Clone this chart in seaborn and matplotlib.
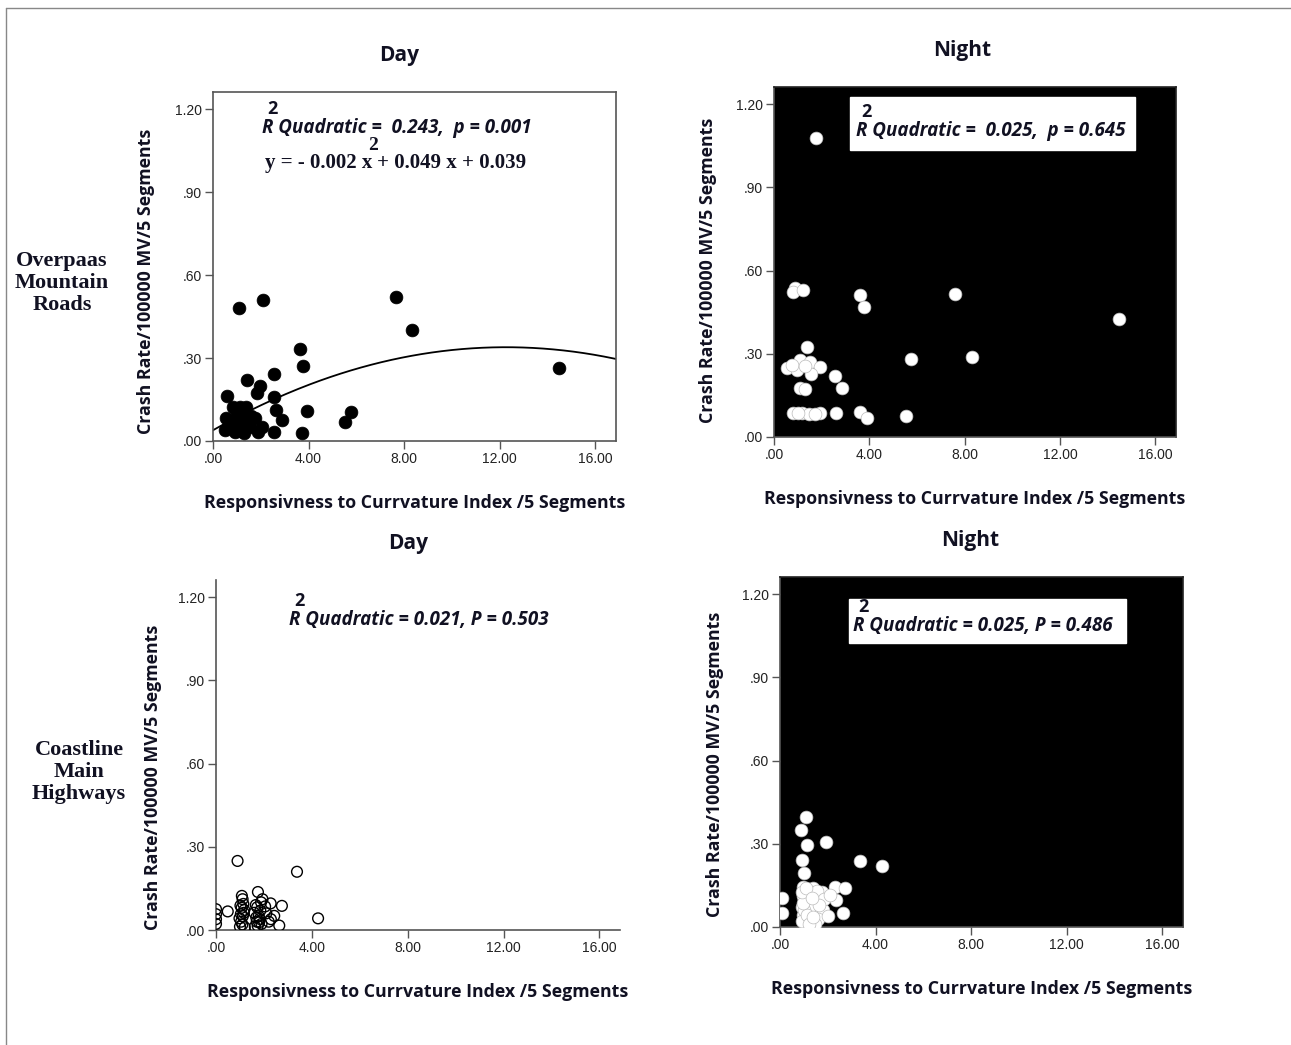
import numpy as np
import pandas as pd
import matplotlib
matplotlib.use("Agg")
import matplotlib.pyplot as plt
import seaborn as sns
from matplotlib.patches import Rectangle
from matplotlib.lines import Line2D

sns.set_theme(style="white")
plt.rcParams["font.family"] = ["Liberation Sans", "DejaVu Sans"]

# ---------------- data ----------------
x_ticks = [0, 4, 8, 12, 16]
x_tick_labels = [".00", "4.00", "8.00", "12.00", "16.00"]
y_ticks = [0.0, 0.3, 0.6, 0.9, 1.2]
y_tick_labels = [".00", ".30", ".60", ".90", "1.20"]

mtn_day_x = [1.07, 2.09, 7.64, 8.32, 14.49, 3.64, 3.78, 2.56, 1.41, 1.95, 1.84, 0.60,
             2.56, 2.63, 3.92, 5.76, 5.53, 2.88, 3.74, 2.56, 0.49, 0.84, 1.11, 1.39,
             0.56, 1.76, 1.11, 0.91, 1.30, 1.88, 2.05, 1.53, 1.11, 1.39, 0.75, 1.00,
             1.20, 0.95, 1.60]
mtn_day_y = [0.482, 0.509, 0.522, 0.402, 0.265, 0.332, 0.273, 0.242, 0.221, 0.199, 0.172, 0.163,
             0.159, 0.112, 0.109, 0.104, 0.070, 0.075, 0.028, 0.033, 0.039, 0.124, 0.124, 0.124,
             0.084, 0.084, 0.087, 0.033, 0.029, 0.033, 0.049, 0.051, 0.063, 0.087, 0.060, 0.100,
             0.045, 0.070, 0.090]

mtn_night_x = [1.75, 0.88, 0.81, 1.20, 3.62, 3.76, 7.61, 14.47, 1.39, 5.74, 8.31, 0.53,
               0.95, 1.09, 1.51, 1.92, 1.56, 2.55, 2.87, 1.09, 1.30, 0.81, 1.16, 1.48,
               1.92, 2.62, 3.62, 3.90, 5.52, 0.75, 1.30, 1.00, 1.70]
mtn_night_y = [1.077, 0.536, 0.524, 0.530, 0.512, 0.467, 0.517, 0.425, 0.325, 0.282, 0.290, 0.249,
               0.240, 0.276, 0.270, 0.252, 0.227, 0.220, 0.178, 0.178, 0.173, 0.086, 0.086, 0.082,
               0.086, 0.088, 0.089, 0.070, 0.074, 0.260, 0.255, 0.085, 0.084]

coast_day_x = [0.90, 3.38, 4.26, 0.49, 0.00, 0.00, 0.00, 0.00, 1.08, 1.11, 1.75, 1.94,
               2.28, 2.75, 2.64, 2.43, 2.29, 1.00, 1.05, 1.12, 1.18, 1.02, 1.10, 1.16,
               0.98, 1.07, 1.20, 1.04, 1.14, 1.62, 1.70, 1.78, 1.85, 1.66, 1.74, 1.82,
               1.90, 1.60, 1.72, 1.88, 1.68, 1.80, 2.10, 2.20, 2.05]
coast_day_y = [0.249, 0.210, 0.042, 0.067, 0.075, 0.057, 0.039, 0.022, 0.123, 0.111, 0.137, 0.111,
               0.096, 0.087, 0.016, 0.051, 0.039, 0.012, 0.030, 0.050, 0.072, 0.088, 0.020, 0.062,
               0.042, 0.080, 0.010, 0.058, 0.094, 0.012, 0.030, 0.050, 0.070, 0.090, 0.015, 0.040,
               0.022, 0.062, 0.082, 0.100, 0.045, 0.028, 0.060, 0.030, 0.085]

coast_night_x = [1.08, 0.875, 1.11, 1.94, 0.90, 3.36, 4.26, 1.01, 0.97, 1.39, 2.29, 2.71,
                 1.67, 2.36, 1.11, 1.39, 1.81, 2.64, 0.97, 1.11, 0.07, 0.07, 0.90, 1.25,
                 1.50, 1.05, 1.60, 2.00, 1.20, 0.95, 1.45, 1.75, 0.92, 1.02, 1.15, 1.30,
                 1.55, 1.85, 0.98, 1.22, 1.40, 1.62, 0.93, 1.10, 1.35, 2.10]
coast_night_y = [0.398, 0.348, 0.296, 0.306, 0.243, 0.238, 0.219, 0.195, 0.145, 0.139, 0.145, 0.139,
                 0.115, 0.097, 0.097, 0.061, 0.061, 0.049, 0.043, 0.019, 0.103, 0.049, 0.073, 0.120,
                 0.090, 0.010, 0.030, 0.040, 0.070, 0.110, 0.010, 0.125, 0.020, 0.060, 0.045, 0.125,
                 0.130, 0.100, 0.085, 0.012, 0.035, 0.080, 0.125, 0.140, 0.105, 0.115]

# quadratic fit printed on the chart: y = -0.002 x^2 + 0.049 x + 0.039
fit_coefs = [-0.002, 0.049, 0.039]

X_MAX = 16.86
Y_MAX = 1.262
TXT = "#111122"
SPINE = "#555555"
SANS_B = ["Open Sans", "DejaVu Sans"]
SERIF = ["Liberation Serif", "DejaVu Serif"]

fig = plt.figure(figsize=(12.91, 10.45), dpi=100)
W, H = 1291, 1045


def add_ax(x0, y0, x1, y1):
    return fig.add_axes([x0 / W, 1 - y1 / H, (x1 - x0) / W, (y1 - y0) / H])


def style(ax, dark, title, title_x, ylab_xy, full_frame=True):
    ax.set_xlim(0, X_MAX)
    ax.set_ylim(0, Y_MAX)
    ax.set_xticks(x_ticks)
    ax.set_xticklabels(x_tick_labels)
    ax.set_yticks(y_ticks)
    ax.set_yticklabels(y_tick_labels)
    ax.tick_params(axis="both", direction="out", length=6, width=1, color=SPINE,
                   labelsize=10, labelcolor="#222222", pad=2,
                   bottom=True, left=True)
    ax.set_facecolor("black" if dark else "white")
    for s in ["left", "bottom", "top", "right"]:
        ax.spines[s].set_color(SPINE if not dark else "#222222")
        ax.spines[s].set_linewidth(1.2)
    ax.spines["left"].set_color(SPINE)
    ax.spines["bottom"].set_color(SPINE)
    if not full_frame:
        ax.spines["top"].set_visible(False)
        ax.spines["right"].set_visible(False)
    ax.grid(False)
    ax.set_xlabel("Responsivness to Currvature Index /5 Segments", fontsize=12.8,
                  fontweight="bold", family=SANS_B, color=TXT, labelpad=20)
    ax.set_ylabel("Crash Rate/100000 MV/5 Segments", fontsize=12.8,
                  fontweight="bold", family=SANS_B, color=TXT)
    ax.yaxis.set_label_coords(*ylab_xy)
    ax.set_title(title, fontsize=15, fontweight="bold", family=SANS_B,
                 color=TXT, pad=22, x=title_x)


def r2_text(ax, x, y, txt, box=None):
    if box is not None:
        ax.add_patch(Rectangle((box[0], box[1]), box[2], box[3], transform=ax.transAxes,
                               facecolor="white", edgecolor="white", zorder=4))
    t = ax.text(x, y, txt, transform=ax.transAxes, fontsize=13.5, fontweight="bold",
                style="italic", family=SANS_B, color=TXT,
                ha="left", va="center", zorder=5)
    ax.annotate("2", xy=(0, 1), xycoords=t, xytext=(4, 0), textcoords="offset points",
                fontsize=13, fontweight="bold", family=SANS_B,
                color=TXT, ha="left", va="bottom", zorder=5)
    return t


# ---------- Panel 1: mountain day ----------
ax1 = add_ax(213, 92, 616, 441)
df1 = pd.DataFrame({"x": mtn_day_x, "y": mtn_day_y})
sns.scatterplot(data=df1, x="x", y="y", ax=ax1, color="black", s=85,
                edgecolor="black", linewidth=0.5, legend=False, zorder=3)
xs = np.linspace(0, X_MAX, 200)
ys = np.polyval(fit_coefs, xs)
sns.lineplot(x=xs, y=ys, ax=ax1, color="black", linewidth=1.3, zorder=2)
style(ax1, dark=False, title="Day", title_x=0.462, ylab_xy=(-0.144, 0.456))
r2_text(ax1, 0.122, 0.897, "R Quadratic =  0.243,  p = 0.001")
t_eq = ax1.text(0.129, 0.797, "y = - 0.002 x", transform=ax1.transAxes, fontsize=15,
                fontweight="bold", family=SERIF, color=TXT, ha="left", va="center")
ax1.annotate("2", xy=(1, 1), xycoords=t_eq, xytext=(-3, -1), textcoords="offset points",
             fontsize=14, fontweight="bold", family=SERIF, color=TXT, ha="left", va="bottom")
ax1.annotate("+ 0.049 x + 0.039", xy=(1, 0), xycoords=t_eq, xytext=(3, 0),
             textcoords="offset points", fontsize=15, fontweight="bold",
             family=SERIF, color=TXT, ha="left", va="bottom")

# ---------- Panel 2: mountain night ----------
ax2 = add_ax(774, 87, 1176, 437)
df2 = pd.DataFrame({"x": mtn_night_x, "y": mtn_night_y})
sns.scatterplot(data=df2, x="x", y="y", ax=ax2, color="white", s=85,
                edgecolor="#bbbbbb", linewidth=0.5, legend=False, zorder=3)
style(ax2, dark=True, title="Night", title_x=0.468, ylab_xy=(-0.142, 0.477))
r2_text(ax2, 0.204, 0.874, "R Quadratic =  0.025,  p = 0.645",
        box=(0.189, 0.82, 0.709, 0.151))

# ---------- Panel 3: coastline day ----------
ax3 = add_ax(216, 580, 620, 930)
df3 = pd.DataFrame({"x": coast_day_x, "y": coast_day_y})
sns.scatterplot(data=df3, x="x", y="y", ax=ax3, facecolor="none", s=60,
                edgecolor="black", linewidth=1.0, legend=False, zorder=3)
style(ax3, dark=False, title="Day", title_x=0.475, ylab_xy=(-0.134, 0.437),
      full_frame=False)
r2_text(ax3, 0.181, 0.886, "R Quadratic = 0.021, P = 0.503")

# ---------- Panel 4: coastline night ----------
ax4 = add_ax(780, 577, 1183, 927)
df4 = pd.DataFrame({"x": coast_night_x, "y": coast_night_y})
sns.scatterplot(data=df4, x="x", y="y", ax=ax4, color="white", s=85,
                edgecolor="#bbbbbb", linewidth=0.5, legend=False, zorder=3)
style(ax4, dark=True, title="Night", title_x=0.471, ylab_xy=(-0.139, 0.466))
r2_text(ax4, 0.181, 0.86, "R Quadratic = 0.025, P = 0.486",
        box=(0.171, 0.811, 0.688, 0.126))

# ---------- row labels ----------
fig.text(62 / W, 1 - 283 / H, "Overpaas\nMountain\nRoads", ha="center", va="center",
         fontsize=16, fontweight="bold", family=SERIF, color=TXT, linespacing=1.12)
fig.text(79 / W, 1 - 772 / H, "Coastline\nMain\nHighways", ha="center", va="center",
         fontsize=16, fontweight="bold", family=SERIF, color=TXT, linespacing=1.12)

# ---------- outer frame ----------
fig.add_artist(Line2D([6 / W, 6 / W], [0, 1 - 8 / H], transform=fig.transFigure,
                      color="#888888", linewidth=1))
fig.add_artist(Line2D([6 / W, 1], [1 - 8 / H, 1 - 8 / H], transform=fig.transFigure,
                      color="#888888", linewidth=1))

fig.savefig("out.png", dpi=100)
